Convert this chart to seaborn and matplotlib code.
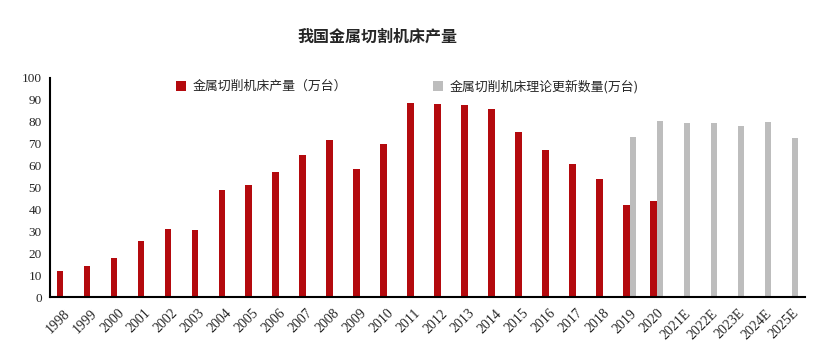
import matplotlib
matplotlib.use("Agg")
import matplotlib.pyplot as plt
import seaborn as sns
import pandas as pd
import numpy as np
from matplotlib.patches import Patch

years = ["1998", "1999", "2000", "2001", "2002", "2003", "2004", "2005", "2006", "2007",
         "2008", "2009", "2010", "2011", "2012", "2013", "2014", "2015", "2016", "2017",
         "2018", "2019", "2020", "2021E", "2022E", "2023E", "2024E", "2025E"]
production = [11.9, 14.0, 17.7, 25.5, 31.0, 30.5, 48.9, 51.1, 57.1, 64.9,
              71.8, 58.5, 69.9, 88.7, 88.2, 87.8, 86.0, 75.4, 67.2, 60.8,
              53.9, 42.0, 43.8, None, None, None, None, None]
renewal = [None] * 21 + [73.1, 80.5, 79.5, 79.5, 78.2, 80.0, 72.7]

name_prod = "金属切削机床产量（万台）"
name_renew = "金属切削机床理论更新数量(万台)"
title = "我国金属切割机床产量"
yticks = list(range(0, 101, 10))

df = pd.DataFrame({
    "year": years * 2,
    "value": production + renewal,
    "series": [name_prod] * len(years) + [name_renew] * len(years),
})

sns.set_style("white")
plt.rcParams["font.family"] = ["Noto Sans CJK SC", "DejaVu Sans"]

red = "#B40A0E"
gray = "#BDBDBD"

fig = plt.figure(figsize=(8.29, 3.53), dpi=100)
ax = fig.add_axes([50 / 829, 1 - 297 / 353, 755 / 829, 219 / 353])

sns.barplot(data=df, x="year", y="value", hue="series", order=years,
            hue_order=[name_prod, name_renew], palette=[red, gray],
            width=0.5, ax=ax, legend=False, saturation=1, linewidth=0)

ax.set_xlim(-0.5, len(years) - 0.5)
ax.set_ylim(0, 100)
ax.set_yticks(yticks)
ax.set_yticklabels([str(t) for t in yticks], family="Liberation Serif", fontsize=9.5)
ax.set_xlabel("")
ax.set_ylabel("")

ax.set_xticks(np.arange(len(years)))
ax.set_xticklabels(years, rotation=45, ha="right", rotation_mode="anchor",
                   family="Liberation Serif", fontsize=10)
ax.tick_params(axis="x", which="major", length=0, pad=7)
ax.set_xticks(np.arange(len(years) + 1) - 0.5, minor=True)
ax.tick_params(axis="x", which="minor", length=4, width=1.2, color="black", direction="out")
ax.tick_params(axis="y", which="major", length=4, width=1.2, color="black", direction="out", pad=2)

for s in ["top", "right"]:
    ax.spines[s].set_visible(False)
for s in ["left", "bottom"]:
    ax.spines[s].set_color("black")
    ax.spines[s].set_linewidth(1.5)

h1 = Patch(facecolor=red, edgecolor="none")
h2 = Patch(facecolor=gray, edgecolor="none")
leg1 = ax.legend([h1], [name_prod], loc="center left", bbox_to_anchor=(0.16, 0.96),
                 frameon=False, fontsize=9.3, handlelength=0.8, handleheight=0.8,
                 handletextpad=0.5, borderaxespad=0)
ax.add_artist(leg1)
ax.legend([h2], [name_renew], loc="center left", bbox_to_anchor=(0.50, 0.96),
          frameon=False, fontsize=9.3, handlelength=0.8, handleheight=0.8,
          handletextpad=0.5, borderaxespad=0)

fig.text(377 / 829, 1 - 37 / 353, title, ha="center", va="center",
         fontsize=11.5, fontweight="bold")

fig.savefig("out.png", dpi=100)
